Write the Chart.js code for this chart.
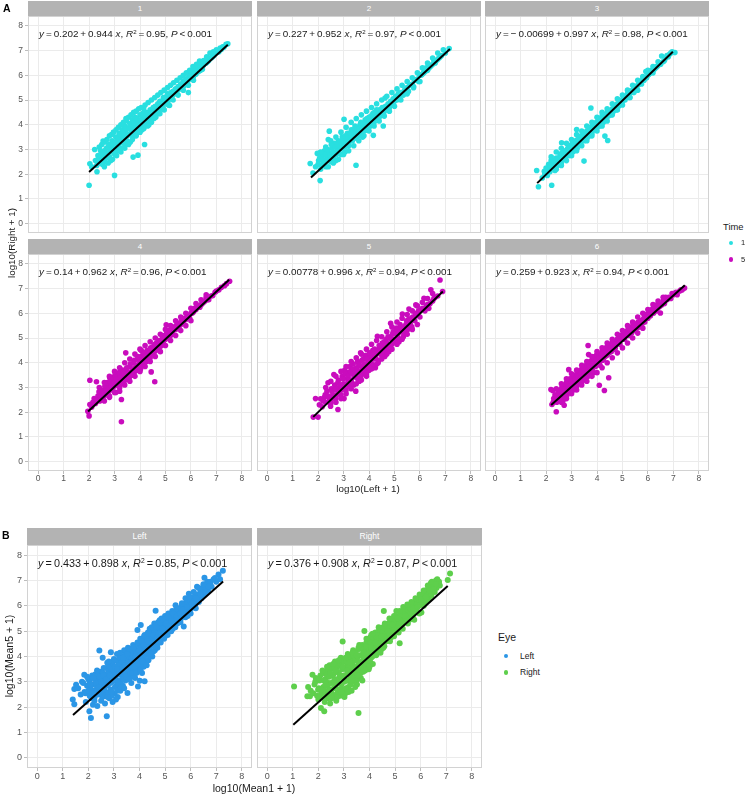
<!DOCTYPE html>
<html>
<head>
<meta charset="utf-8">
<title>log10 scatter panels</title>
<script src="https://cdn.jsdelivr.net/npm/chart.js@4.4.1/dist/chart.umd.min.js"></script>
<style>
    html, body { margin: 0; padding: 0; background: #fff; }
    #fig { position: relative; width: 749px; height: 796px; overflow: hidden; font-family: 'Liberation Sans', Arial, sans-serif; color: #1a1a1a; }
    #fig canvas { position: absolute; }
    .strip { position: absolute; background: #b3b3b3; color: #fff; text-align: center; }
    .eq { position: absolute; white-space: nowrap; transform: translateY(-50%); line-height: 1; }
    .eq sup { font-size: 0.62em; vertical-align: 0.55em; line-height: 0; }
    .txt { position: absolute; white-space: nowrap; line-height: 1; }
    .dot { position: absolute; border-radius: 50%; }
</style>
</head>
<body>
<div id="fig"></div>
<script>
(function() {
    'use strict';

    // ---- data ----
    const tickValues = [0, 1, 2, 3, 4, 5, 6, 7, 8];
    const panelNames = ['1', '2', '3', '4', '5', '6', 'Left', 'Right'];
    const timeLevels = ['1', '5'];
    const eyeLevels = ['Left', 'Right'];

    const fitIntercept = [0.202, 0.227, -0.00699, 0.14, 0.00778, 0.259, 0.433, 0.376];
    const fitSlope = [0.944, 0.952, 0.997, 0.962, 0.996, 0.923, 0.898, 0.908];
    const fitR2 = [0.95, 0.97, 0.98, 0.96, 0.94, 0.94, 0.85, 0.87];
    const fitXMin = [2.0, 1.72, 1.65, 1.96, 1.81, 2.2, 1.4, 1.02];
    const fitXMax = [7.45, 7.18, 6.98, 7.5, 6.9, 7.45, 7.27, 7.06];

    // x, y pairs (log10 values)
    const panel1Pts = [2.00,1.55, 2.03,2.42, 2.10,2.30, 2.22,3.00, 2.31,2.10, 2.25,2.55, 2.35,2.75, 2.40,2.45, 2.45,2.95, 2.50,2.60, 2.55,3.34, 2.58,2.80, 2.62,2.50, 2.68,3.05, 2.72,2.70, 2.78,3.20, 2.82,2.90, 2.85,2.55, 2.90,3.35, 2.95,3.05, 3.00,1.95, 3.02,2.80, 3.05,3.50, 3.10,3.20, 3.12,2.95, 3.18,3.65, 3.22,3.40, 3.25,3.05, 3.30,3.80, 3.32,3.55, 3.36,3.25, 3.40,3.95, 3.44,3.70, 3.46,4.15, 3.48,3.35, 3.52,3.85, 3.56,3.60, 3.60,4.05, 3.62,3.30, 3.66,3.80, 3.70,4.20, 3.73,2.69, 3.75,3.55, 3.78,3.95, 3.82,4.30, 3.86,3.75, 3.90,4.10, 3.92,2.77, 3.95,3.90, 4.00,4.40, 4.04,4.15, 4.08,3.80, 4.12,4.30, 4.14,4.66, 4.18,3.20, 4.20,4.05, 4.25,4.50, 4.30,4.25, 4.35,4.00, 4.40,4.60, 4.45,4.35, 4.50,4.55, 4.55,4.25, 4.60,4.75, 4.65,4.50, 4.70,4.85, 4.75,4.60, 4.80,4.80, 4.85,4.95, 4.90,4.70, 4.95,5.05, 5.00,4.85, 5.05,5.15, 5.10,4.95, 5.16,4.78, 5.20,5.20, 5.25,5.10, 5.30,5.35, 5.35,5.25, 5.40,5.45, 5.45,5.35, 5.50,5.55, 5.55,5.45, 5.60,5.65, 5.65,5.50, 5.70,5.75, 5.75,5.60, 5.80,5.85, 5.85,5.70, 5.90,5.30, 5.92,5.95, 6.00,5.85, 6.05,6.05, 6.10,5.95, 6.15,6.15, 6.20,6.05, 6.25,6.25, 6.30,6.15, 6.34,6.58, 6.40,6.35, 6.45,6.25, 6.50,6.45, 6.60,6.50, 6.70,6.60, 6.80,6.70, 6.90,6.80, 7.00,7.03, 7.10,6.95, 7.20,7.05, 7.30,7.15, 7.45,7.28,
        2.30,2.35, 2.38,2.60, 2.48,2.75, 2.52,2.40, 2.60,2.95, 2.66,2.65, 2.70,2.85, 2.75,3.10, 2.80,2.70, 2.88,3.00, 2.92,3.20, 2.98,2.85, 3.04,3.30, 3.08,3.05, 3.14,3.45, 3.16,3.10, 3.20,3.25, 3.24,3.60, 3.28,3.30, 3.34,3.70, 3.38,3.50, 3.42,3.20, 3.46,3.85, 3.50,3.55, 3.54,3.30, 3.58,3.90, 3.64,3.65, 3.68,4.00, 3.72,3.50, 3.76,4.10, 3.80,3.80, 3.84,3.60, 3.88,4.25, 3.94,4.00, 3.98,3.70, 4.02,4.20, 4.06,3.95, 4.10,4.45, 4.16,4.05, 4.22,4.30, 4.28,4.45, 4.32,4.10, 4.38,4.40, 4.42,4.20, 4.48,4.45, 4.52,4.70, 4.58,4.45, 4.62,4.60, 4.68,4.70, 4.72,4.45, 4.78,4.95, 4.82,4.65, 4.88,4.85, 4.92,5.10, 4.98,4.95, 5.02,5.05, 5.08,5.25, 5.14,5.05, 5.22,5.30, 5.28,5.20, 5.38,5.40, 5.48,5.45, 5.58,5.55, 5.68,5.65, 5.78,5.75, 5.88,5.80, 5.98,6.00, 6.08,6.15, 6.18,6.25, 6.28,6.35, 6.38,6.20, 6.48,6.40, 6.55,6.55, 6.65,6.55, 6.75,6.70, 6.85,6.75, 6.95,6.90, 7.05,6.95, 7.15,7.10, 7.25,7.15, 7.38,7.25];
    const panel1Edge = [2.40,3.10, 2.50,3.20, 2.62,3.30, 2.70,3.40, 2.80,3.55, 2.88,3.60, 2.96,3.70, 3.06,3.80, 3.15,3.90, 3.25,4.00, 3.35,4.10, 3.45,4.25, 3.55,4.30, 3.65,4.40, 3.75,4.50, 3.85,4.55, 3.95,4.65, 4.05,4.70, 4.20,4.80, 4.32,4.90, 4.45,5.00, 4.58,5.10, 4.70,5.20, 4.82,5.30, 4.95,5.40, 5.08,5.50, 5.20,5.60, 5.32,5.70, 5.45,5.80, 5.58,5.90, 5.70,6.00, 5.82,6.10, 5.95,6.20, 6.08,6.35, 6.22,6.45, 6.36,6.50, 6.50,6.60, 6.62,6.75, 6.75,6.90, 6.88,6.95,
        2.60,2.30, 2.75,2.45, 2.92,2.60, 3.08,2.75, 3.25,2.90, 3.40,3.05, 3.55,3.20, 3.70,3.40, 3.85,3.55, 4.00,3.70, 4.15,3.85, 4.30,3.95, 4.45,4.10, 4.62,4.30, 4.78,4.45, 4.95,4.60, 5.12,4.80, 5.30,5.00, 5.50,5.20, 5.70,5.40, 5.90,5.60, 6.10,5.80];
    const panel2Pts = [1.69,2.43, 1.80,2.05, 1.90,2.30, 1.97,2.84, 2.02,2.55, 2.08,1.74, 2.10,2.20, 2.15,2.75, 2.20,2.45, 2.25,2.95, 2.30,2.30, 2.35,2.65, 2.40,3.40, 2.44,3.74, 2.45,2.85, 2.50,2.50, 2.55,3.05, 2.60,2.75, 2.65,3.25, 2.70,2.55, 2.75,2.95, 2.80,3.35, 2.85,3.10, 2.90,2.80, 2.95,3.50, 3.00,3.20, 3.02,4.22, 3.05,2.90, 3.10,3.40, 3.15,3.65, 3.20,3.15, 3.25,3.50, 3.30,3.80, 3.35,3.35, 3.40,3.60, 3.45,3.95, 3.49,2.36, 3.50,3.45, 3.55,3.75, 3.60,3.55, 3.65,4.00, 3.70,3.70, 3.75,3.50, 3.80,3.90, 3.85,4.20, 3.90,3.80, 3.95,4.05, 4.00,4.30, 4.05,3.95, 4.10,4.20, 4.15,4.45, 4.17,3.57, 4.20,4.10, 4.25,4.35, 4.30,4.60, 4.35,4.25, 4.40,4.50, 4.45,4.35, 4.50,4.65, 4.56,3.95, 4.58,4.50, 4.63,5.08, 4.65,4.75, 4.70,4.60, 4.75,4.85, 4.80,4.70, 4.85,4.95, 4.90,4.80, 4.95,5.05, 5.00,4.95, 5.05,5.15, 5.10,5.00, 5.15,5.25, 5.20,5.10, 5.30,5.30, 5.35,5.20, 5.40,5.40, 5.50,5.50, 5.55,5.35, 5.60,5.60, 5.70,5.65, 5.75,5.55, 5.80,5.80, 5.90,5.85, 5.95,5.75, 6.00,6.00, 6.10,6.05, 6.20,6.15, 6.25,6.30, 6.30,6.20, 6.40,6.35, 6.50,6.45, 6.55,6.60, 6.60,6.50, 6.70,6.65, 6.80,6.75, 6.92,7.03, 7.00,6.90, 7.15,7.08,
        2.00,2.40, 2.06,2.65, 2.12,2.35, 2.18,2.60, 2.22,2.80, 2.28,2.50, 2.32,2.80, 2.38,3.00, 2.42,2.55, 2.48,2.75, 2.52,3.20, 2.58,2.90, 2.62,2.60, 2.68,3.10, 2.72,2.80, 2.78,3.20, 2.82,2.95, 2.88,3.30, 2.92,3.05, 2.98,3.40, 3.04,3.10, 3.08,3.55, 3.12,3.30, 3.18,3.50, 3.22,3.30, 3.28,3.65, 3.32,3.45, 3.38,3.80, 3.42,3.50, 3.48,3.70, 3.52,3.90, 3.58,3.65, 3.62,3.85, 3.68,4.10, 3.72,3.85, 3.78,4.05, 3.82,3.75, 3.88,4.00, 3.92,4.25, 3.98,4.15, 4.02,3.95, 4.08,4.35, 4.12,4.10, 4.18,4.30, 4.22,4.50, 4.28,4.25, 4.32,4.45, 4.38,4.35, 4.42,4.60, 4.48,4.45, 4.52,4.70, 4.60,4.60, 4.68,4.65, 4.78,4.80, 4.88,4.90, 4.98,5.00, 5.08,5.10, 5.18,5.20, 5.25,5.30, 5.45,5.45, 5.65,5.60, 5.85,5.80, 6.05,6.00, 6.15,6.10, 6.35,6.30, 6.45,6.40, 6.65,6.60, 6.75,6.70, 6.85,6.80];
    const panel2Edge = [2.10,2.90, 2.30,3.10, 2.50,3.35, 2.70,3.50, 2.90,3.70, 3.10,3.90, 3.30,4.10, 3.50,4.25, 3.70,4.40, 3.90,4.55, 4.10,4.70, 4.30,4.85, 4.50,5.00, 4.70,5.15, 4.90,5.30, 5.10,5.45, 5.30,5.60, 5.50,5.75, 5.70,5.90, 5.90,6.10, 6.10,6.30, 6.30,6.50, 6.50,6.70, 6.70,6.90,
        2.40,2.30, 2.60,2.45, 2.80,2.60, 3.00,2.80, 3.20,2.95, 3.40,3.15, 3.60,3.35, 3.80,3.55, 4.00,3.75, 4.20,3.95, 4.40,4.15, 4.60,4.35, 4.80,4.55, 5.00,4.75, 5.25,5.00, 5.50,5.25, 5.75,5.50, 6.00,5.75];
    const panel3Pts = [1.63,2.15, 1.70,1.49, 1.85,1.85, 1.93,2.12, 2.00,2.25, 2.05,1.95, 2.10,2.40, 2.15,2.10, 2.20,2.55, 2.22,1.55, 2.25,2.25, 2.30,2.45, 2.35,2.15, 2.40,2.65, 2.45,2.35, 2.50,2.55, 2.55,2.80, 2.60,2.45, 2.61,3.27, 2.65,2.70, 2.70,2.95, 2.75,2.60, 2.80,2.85, 2.85,3.05, 2.90,2.75, 2.95,3.00, 3.00,3.20, 3.05,2.90, 3.10,3.15, 3.15,3.35, 3.20,3.81, 3.22,3.05, 3.25,3.30, 3.30,3.50, 3.35,3.20, 3.40,3.45, 3.45,3.60, 3.49,2.53, 3.50,3.35, 3.55,3.55, 3.60,3.75, 3.65,3.50, 3.70,3.70, 3.75,3.90, 3.76,4.68, 3.80,3.65, 3.85,3.85, 3.90,4.05, 3.95,3.80, 4.00,4.00, 4.05,4.20, 4.10,3.95, 4.15,4.15, 4.20,4.35, 4.25,4.10, 4.31,3.54, 4.35,4.30, 4.40,4.50, 4.42,3.36, 4.45,4.35, 4.50,4.55, 4.55,4.40, 4.60,4.65, 4.65,4.55, 4.70,4.75, 4.75,4.60, 4.80,4.85, 4.85,4.75, 4.90,4.95, 5.00,4.95, 5.05,5.10, 5.10,5.00, 5.20,5.25, 5.25,5.10, 5.30,5.35, 5.40,5.40, 5.45,5.30, 5.50,5.55, 5.60,5.60, 5.70,5.70, 5.75,5.65, 5.80,5.85, 5.92,6.15, 5.95,5.90, 6.05,6.05, 6.15,6.20, 6.20,6.10, 6.30,6.30, 6.40,6.40, 6.50,6.45, 6.54,6.78, 6.65,6.60, 6.75,6.80, 6.85,6.85, 6.95,6.95, 7.06,6.92,
        1.95,2.00, 2.08,2.20, 2.12,2.25, 2.18,2.35, 2.28,2.30, 2.32,2.55, 2.38,2.40, 2.42,2.50, 2.48,2.65, 2.52,2.45, 2.58,2.65, 2.62,2.85, 2.68,2.60, 2.72,2.80, 2.78,2.75, 2.82,2.95, 2.88,2.90, 2.92,3.10, 2.98,2.90, 3.02,3.05, 3.08,3.25, 3.12,3.05, 3.18,3.20, 3.24,3.40, 3.28,3.25, 3.32,3.35, 3.38,3.55, 3.42,3.35, 3.48,3.50, 3.52,3.65, 3.58,3.45, 3.62,3.60, 3.68,3.80, 3.72,3.60, 3.78,3.75, 3.82,3.95, 3.88,3.80, 3.92,3.90, 3.98,4.10, 4.02,3.90, 4.08,4.05, 4.12,4.25, 4.18,4.10, 4.22,4.20, 4.28,4.40, 4.32,4.25, 4.38,4.35, 4.48,4.45, 4.58,4.55, 4.68,4.65, 4.78,4.75, 4.88,4.85, 4.95,5.00, 5.15,5.15, 5.35,5.30, 5.55,5.50, 5.65,5.65, 5.85,5.80, 6.00,6.00, 6.10,6.10, 6.25,6.25, 6.35,6.35, 6.45,6.50, 6.60,6.55, 6.70,6.70, 6.80,6.75, 6.90,6.90];
    const panel3Edge = [2.20,2.70, 2.40,2.90, 2.60,3.05, 2.80,3.25, 3.00,3.40, 3.20,3.60, 3.40,3.75, 3.60,3.95, 3.80,4.10, 4.00,4.30, 4.20,4.50, 4.40,4.65, 4.60,4.85, 4.80,5.05, 5.00,5.20, 5.20,5.40, 5.40,5.60, 5.60,5.80, 5.80,5.95, 6.00,6.20, 6.20,6.35, 6.40,6.55,
        2.40,2.20, 2.60,2.35, 2.80,2.55, 3.00,2.75, 3.20,2.95, 3.40,3.15, 3.60,3.35, 3.80,3.55, 4.00,3.75, 4.20,3.95, 4.40,4.15, 4.60,4.40, 4.80,4.60, 5.00,4.80, 5.30,5.10, 5.60,5.40];
    const panel4Pts = [1.95,2.04, 2.00,1.85, 2.03,3.29, 2.03,2.31, 2.10,2.20, 2.20,2.55, 2.25,2.35, 2.29,3.23, 2.35,2.65, 2.39,2.82, 2.42,2.45, 2.50,2.75, 2.55,2.55, 2.60,2.90, 2.65,2.70, 2.70,3.05, 2.75,2.80, 2.80,2.60, 2.81,3.40, 2.85,3.15, 2.90,2.90, 2.95,3.30, 3.00,3.05, 3.05,2.80, 3.10,3.20, 3.15,3.45, 3.20,3.00, 3.25,3.30, 3.27,1.61, 3.27,2.51, 3.30,3.55, 3.35,3.20, 3.40,3.45, 3.44,4.40, 3.45,3.70, 3.50,3.35, 3.55,3.60, 3.60,3.85, 3.65,3.50, 3.70,3.75, 3.75,4.00, 3.80,3.65, 3.85,3.90, 3.90,4.15, 3.95,3.80, 4.00,4.05, 4.05,4.50, 4.05,4.25, 4.10,3.90, 4.15,4.15, 4.20,4.40, 4.25,4.05, 4.30,4.30, 4.35,4.50, 4.40,4.20, 4.44,3.63, 4.45,4.45, 4.50,4.65, 4.55,4.40, 4.58,3.23, 4.60,4.60, 4.65,4.80, 4.70,4.55, 4.75,4.75, 4.80,4.90, 4.85,4.70, 4.90,4.95, 4.95,5.10, 5.00,4.95, 5.03,5.54, 5.10,5.15, 5.15,5.30, 5.20,5.10, 5.25,5.25, 5.30,5.40, 5.40,5.35, 5.45,5.55, 5.50,5.45, 5.60,5.55, 5.65,5.70, 5.70,5.60, 5.80,5.75, 5.90,5.90, 5.95,5.80, 6.00,6.00, 6.10,6.05, 6.20,6.15, 6.25,6.30, 6.35,6.25, 6.45,6.40, 6.55,6.50, 6.60,6.65, 6.70,6.55, 6.86,6.72, 6.95,6.85, 7.10,6.95, 7.32,7.12, 7.52,7.30,
        2.15,2.40, 2.32,2.50, 2.45,2.60, 2.48,2.90, 2.58,2.75, 2.62,3.05, 2.68,2.85, 2.72,3.20, 2.78,2.95, 2.82,3.25, 2.88,3.05, 2.92,3.40, 2.98,3.20, 3.02,3.50, 3.08,3.35, 3.12,3.10, 3.18,3.60, 3.22,3.40, 3.28,3.15, 3.32,3.70, 3.38,3.55, 3.42,3.30, 3.48,3.80, 3.52,3.55, 3.58,3.40, 3.62,3.95, 3.68,3.65, 3.72,3.50, 3.78,4.10, 3.82,3.80, 3.88,3.70, 3.92,4.25, 3.98,3.95, 4.02,3.75, 4.08,4.20, 4.12,4.40, 4.18,4.00, 4.22,4.25, 4.28,4.50, 4.32,4.20, 4.38,4.40, 4.42,4.60, 4.48,4.35, 4.52,4.55, 4.58,4.75, 4.62,4.50, 4.68,4.70, 4.72,4.90, 4.78,4.65, 4.82,4.85, 4.88,5.05, 4.92,4.85, 4.98,5.00, 5.05,5.20, 5.12,5.05, 5.18,5.25, 5.22,5.35, 5.28,5.20, 5.35,5.45, 5.42,5.40, 5.48,5.60, 5.55,5.50, 5.62,5.70, 5.75,5.80, 5.85,5.85, 6.05,6.00, 6.15,6.20, 6.30,6.25, 6.40,6.35, 6.50,6.45, 6.65,6.55, 6.80,6.70, 7.00,6.90, 7.20,7.05, 7.40,7.20];
    const panel4Edge = [2.40,3.00, 2.60,3.20, 2.80,3.45, 3.00,3.65, 3.20,3.80, 3.40,4.00, 3.60,4.15, 3.80,4.35, 4.00,4.55, 4.20,4.70, 4.40,4.85, 4.60,5.00, 4.80,5.15, 5.00,5.35, 5.20,5.50, 5.40,5.70, 5.60,5.85, 5.80,6.00, 6.00,6.20, 6.20,6.40, 6.40,6.55, 6.60,6.75,
        2.60,2.45, 2.80,2.65, 3.00,2.80, 3.20,2.85, 3.40,3.10, 3.60,3.25, 3.80,3.45, 4.00,3.65, 4.20,3.85, 4.40,4.05, 4.60,4.25, 4.80,4.45, 5.00,4.70, 5.20,4.90, 5.40,5.10, 5.60,5.30, 5.80,5.50, 6.00,5.70];
    const panel5Pts = [1.81,1.80, 2.00,1.80, 1.90,2.55, 2.10,2.54, 2.16,2.22, 2.25,2.60, 2.30,2.40, 2.35,2.85, 2.39,3.19, 2.45,2.55, 2.49,2.24, 2.52,2.95, 2.58,2.70, 2.62,3.52, 2.65,3.10, 2.70,2.55, 2.75,2.90, 2.78,2.11, 2.80,3.30, 2.85,3.05, 2.90,2.70, 2.95,3.45, 3.00,3.15, 3.02,2.55, 3.05,3.70, 3.10,2.90, 3.15,3.35, 3.20,3.60, 3.22,3.05, 3.25,3.85, 3.30,3.30, 3.35,3.55, 3.38,3.95, 3.40,3.10, 3.45,3.75, 3.48,2.85, 3.50,3.40, 3.55,4.05, 3.58,3.60, 3.62,3.25, 3.67,4.40, 3.70,3.85, 3.75,3.55, 3.78,4.15, 3.82,3.75, 3.88,4.30, 3.90,3.45, 3.95,4.00, 4.00,3.70, 4.05,4.25, 4.10,3.95, 4.15,4.50, 4.20,4.15, 4.25,3.80, 4.30,4.35, 4.33,5.07, 4.38,4.10, 4.42,4.60, 4.48,4.35, 4.52,4.80, 4.58,4.50, 4.62,4.25, 4.68,4.95, 4.72,4.65, 4.78,4.45, 4.85,5.60, 4.85,5.05, 4.90,4.75, 4.95,5.25, 5.02,4.95, 5.08,5.40, 5.12,5.10, 5.18,4.85, 5.22,5.55, 5.28,5.25, 5.31,5.97, 5.35,5.05, 5.40,5.45, 5.48,5.70, 5.52,5.35, 5.57,6.17, 5.60,5.60, 5.68,5.45, 5.72,5.85, 5.80,5.70, 5.84,6.34, 5.90,5.95, 6.00,5.85, 6.05,6.15, 6.16,6.61, 6.20,6.10, 6.30,6.35, 6.35,6.20, 6.43,6.95, 6.50,6.50, 6.60,6.65, 6.79,7.35, 6.89,6.88,
        2.05,2.30, 2.20,2.45, 2.28,2.70, 2.40,2.65, 2.48,2.45, 2.55,2.85, 2.60,2.55, 2.68,2.95, 2.72,2.70, 2.78,3.20, 2.82,2.85, 2.88,3.10, 2.92,2.90, 2.98,3.35, 3.02,3.00, 3.08,3.55, 3.12,3.15, 3.18,3.45, 3.22,3.30, 3.28,3.65, 3.32,3.20, 3.36,3.75, 3.42,3.45, 3.46,3.60, 3.52,3.80, 3.56,3.35, 3.60,3.95, 3.64,3.65, 3.68,3.45, 3.72,4.10, 3.76,3.75, 3.80,3.95, 3.84,4.20, 3.86,3.60, 3.92,4.15, 3.96,3.85, 4.02,4.40, 4.06,4.05, 4.12,4.30, 4.16,3.90, 4.22,4.55, 4.26,4.20, 4.32,4.45, 4.36,4.00, 4.40,4.70, 4.45,4.45, 4.50,4.30, 4.55,4.65, 4.60,4.85, 4.65,4.45, 4.70,4.80, 4.75,5.05, 4.80,4.70, 4.88,4.95, 4.92,5.15, 4.98,4.85, 5.05,5.20, 5.10,5.35, 5.15,5.00, 5.20,5.25, 5.25,5.45, 5.32,5.35, 5.38,5.20, 5.45,5.55, 5.50,5.45, 5.55,5.75, 5.62,5.55, 5.66,5.80, 5.75,5.75, 5.82,6.00, 5.95,6.10, 6.10,6.20, 6.25,6.30, 6.40,6.40, 6.55,6.60, 6.70,6.70];
    const panel5Edge = [2.30,3.00, 2.50,3.25, 2.70,3.45, 2.90,3.65, 3.10,3.85, 3.30,4.05, 3.50,4.20, 3.70,4.35, 3.90,4.55, 4.10,4.75, 4.30,4.90, 4.50,5.05, 4.70,5.25, 4.90,5.45, 5.10,5.65, 5.30,5.80, 5.50,5.95, 5.70,6.10, 5.90,6.30, 6.10,6.45, 6.30,6.60, 6.50,6.80,
        2.50,2.35, 2.70,2.40, 2.90,2.55, 3.10,2.75, 3.30,2.95, 3.50,3.15, 3.70,3.30, 3.90,3.55, 4.10,3.75, 4.30,3.95, 4.50,4.15, 4.70,4.35, 4.90,4.55, 5.10,4.75, 5.30,4.95, 5.50,5.15, 5.70,5.35, 5.90,5.55];
    const panel6Pts = [2.19,2.92, 2.26,2.88, 2.23,2.31, 2.30,2.55, 2.35,2.70, 2.40,2.02, 2.42,2.40, 2.48,2.85, 2.52,2.55, 2.58,2.70, 2.62,3.00, 2.66,2.45, 2.71,2.28, 2.72,2.85, 2.78,3.10, 2.82,2.70, 2.86,2.95, 2.89,3.72, 2.92,3.25, 2.96,2.80, 3.00,3.10, 3.05,3.40, 3.08,2.90, 3.12,3.20, 3.16,3.50, 3.20,3.05, 3.24,3.35, 3.28,3.60, 3.32,3.25, 3.36,3.50, 3.40,3.75, 3.44,3.35, 3.48,3.60, 3.52,3.85, 3.56,3.50, 3.60,3.75, 3.65,4.70, 3.67,4.33, 3.68,3.95, 3.72,3.65, 3.76,3.85, 3.80,4.10, 3.84,3.80, 3.88,4.00, 3.92,4.25, 3.96,3.90, 4.00,4.15, 4.05,4.35, 4.09,3.09, 4.10,4.05, 4.15,4.25, 4.20,4.45, 4.25,4.15, 4.29,2.88, 4.30,4.40, 4.35,4.60, 4.40,4.30, 4.46,3.39, 4.46,4.55, 4.52,4.75, 4.56,4.45, 4.62,4.65, 4.68,4.85, 4.72,4.60, 4.78,4.80, 4.84,5.00, 4.90,4.75, 4.96,4.95, 5.02,5.15, 5.08,4.95, 5.14,5.10, 5.20,5.30, 5.26,5.10, 5.32,5.25, 5.38,5.45, 5.45,5.30, 5.52,5.40, 5.58,5.60, 5.65,5.45, 5.72,5.55, 5.80,5.75, 5.88,5.65, 5.95,5.85, 6.02,6.00, 6.10,5.90, 6.18,6.05, 6.25,6.20, 6.35,6.10, 6.42,6.25, 6.49,6.01, 6.55,6.35, 6.65,6.40, 6.75,6.55, 6.90,6.60, 7.00,6.75, 7.15,6.75, 7.25,6.90, 7.35,6.95, 7.44,7.02,
        2.28,2.40, 2.38,2.50, 2.45,2.60, 2.50,2.75, 2.55,2.90, 2.60,2.55, 2.64,2.80, 2.68,3.05, 2.74,2.70, 2.76,2.95, 2.80,3.20, 2.84,2.85, 2.88,3.05, 2.94,3.35, 2.98,2.95, 3.02,3.25, 3.06,3.00, 3.10,3.45, 3.14,3.30, 3.18,3.10, 3.22,3.55, 3.26,3.45, 3.30,3.15, 3.34,3.65, 3.38,3.40, 3.42,3.25, 3.46,3.80, 3.50,3.50, 3.54,3.35, 3.58,3.90, 3.62,3.60, 3.66,3.45, 3.70,3.85, 3.74,4.05, 3.78,3.70, 3.82,3.95, 3.86,3.60, 3.90,4.15, 3.94,3.85, 3.98,4.30, 4.02,4.00, 4.07,4.20, 4.12,3.90, 4.17,4.35, 4.22,4.10, 4.27,4.55, 4.32,4.25, 4.37,4.45, 4.42,4.65, 4.48,4.40, 4.54,4.60, 4.60,4.80, 4.66,4.55, 4.72,4.75, 4.80,4.95, 4.86,4.80, 4.92,5.10, 4.98,5.05, 5.05,5.00, 5.12,5.20, 5.18,5.15, 5.24,5.40, 5.30,5.35, 5.36,5.20, 5.42,5.55, 5.50,5.50, 5.56,5.40, 5.62,5.65, 5.70,5.70, 5.78,5.60, 5.86,5.85, 5.92,5.95, 6.00,5.80, 6.08,6.05, 6.15,6.15, 6.22,6.00, 6.30,6.30, 6.40,6.40, 6.48,6.30, 6.60,6.50, 6.70,6.65, 6.82,6.65, 6.95,6.80, 7.10,6.85, 7.30,6.95];
    const panel6Edge = [2.40,2.95, 2.60,3.15, 2.80,3.35, 3.00,3.55, 3.20,3.70, 3.40,3.90, 3.60,4.05, 3.80,4.25, 4.00,4.45, 4.20,4.60, 4.40,4.80, 4.60,4.95, 4.80,5.15, 5.00,5.30, 5.20,5.50, 5.40,5.65, 5.60,5.85, 5.80,6.00, 6.00,6.15, 6.20,6.35, 6.40,6.50, 6.60,6.65,
        2.60,2.40, 2.80,2.55, 3.00,2.75, 3.20,2.90, 3.40,3.10, 3.60,3.25, 3.80,3.45, 4.00,3.60, 4.20,3.80, 4.40,4.00, 4.60,4.20, 4.80,4.40, 5.00,4.60, 5.20,4.80, 5.40,5.00, 5.60,5.20, 5.80,5.40];
    const eyeLeftPts = [1.39,2.30, 1.45,2.12, 1.45,2.72, 1.52,2.89, 1.60,2.75, 1.70,2.50, 1.75,3.00, 1.84,3.28, 1.85,2.60, 1.90,2.20, 1.95,2.85, 2.00,3.10, 2.04,1.84, 2.05,2.45, 2.10,1.57, 2.10,2.70, 2.15,3.25, 2.18,2.10, 2.20,2.90, 2.25,2.40, 2.28,3.30, 2.30,2.65, 2.35,2.05, 2.38,3.05, 2.40,2.50, 2.43,4.24, 2.45,2.85, 2.48,3.40, 2.50,2.25, 2.52,2.70, 2.55,3.15, 2.56,3.95, 2.58,2.45, 2.60,3.55, 2.62,2.95, 2.65,2.15, 2.68,3.30, 2.70,2.60, 2.72,1.64, 2.74,3.75, 2.76,2.85, 2.80,3.45, 2.82,2.35, 2.85,3.10, 2.88,4.17, 2.88,2.70, 2.90,3.65, 2.93,3.00, 2.95,2.20, 2.97,3.35, 3.00,3.90, 3.02,2.55, 3.05,3.15, 3.08,3.60, 3.10,2.85, 3.12,4.10, 3.15,2.40, 3.18,3.40, 3.20,3.80, 3.22,3.05, 3.25,2.65, 3.28,3.60, 3.30,4.00, 3.32,3.25, 3.35,2.85, 3.38,3.75, 3.40,4.25, 3.42,3.45, 3.45,3.05, 3.48,3.90, 3.50,3.60, 3.53,2.56, 3.55,4.35, 3.57,3.30, 3.60,3.80, 3.62,4.05, 3.65,3.50, 3.68,2.95, 3.70,4.20, 3.72,3.70, 3.75,4.45, 3.78,3.40, 3.80,3.95, 3.83,3.15, 3.85,4.25, 3.88,3.65, 3.92,5.05, 3.92,4.05, 3.94,2.82, 3.95,3.45, 3.98,4.45, 4.00,3.85, 4.01,3.04, 4.03,4.70, 4.05,3.60, 4.05,5.24, 4.08,4.20, 4.10,3.35, 4.12,4.55, 4.15,3.95, 4.18,4.80, 4.20,3.02, 4.20,4.30, 4.23,3.70, 4.26,4.60, 4.30,4.10, 4.33,4.95, 4.35,3.85, 4.38,4.45, 4.40,5.10, 4.43,4.20, 4.46,4.70, 4.50,4.00, 4.52,5.00, 4.55,4.45, 4.58,5.30, 4.60,4.25, 4.63,5.81, 4.64,4.75, 4.68,5.05, 4.70,4.50, 4.73,5.35, 4.76,4.80, 4.79,5.43, 4.80,5.10, 4.83,4.55, 4.86,5.50, 4.90,4.90, 4.93,5.25, 4.96,4.70, 5.00,5.60, 5.03,5.05, 5.06,5.35, 5.10,4.85, 5.13,5.70, 5.16,5.20, 5.20,5.45, 5.24,5.00, 5.28,5.80, 5.32,5.35, 5.36,5.60, 5.40,5.15, 5.41,6.02, 5.45,5.90, 5.50,5.50, 5.55,5.75, 5.60,5.35, 5.65,6.00, 5.70,5.65, 5.73,5.18, 5.75,5.90, 5.80,5.55, 5.85,6.15, 5.90,5.80, 5.93,6.48, 5.95,6.05, 6.00,5.70, 6.05,6.30, 6.10,5.95, 6.15,6.20, 6.20,5.90, 6.25,6.75, 6.28,6.40, 6.32,6.15, 6.38,6.55, 6.42,6.30, 6.48,6.70, 6.54,7.11, 6.55,6.45, 6.62,6.85, 6.68,6.60, 6.75,6.90, 6.82,6.75, 6.90,7.05, 7.00,6.95, 7.09,7.24, 7.15,7.05, 7.26,7.38,
        2.05,3.00, 2.12,2.35, 2.22,2.65, 2.26,3.10, 2.32,2.85, 2.36,3.25, 2.42,2.70, 2.46,3.10, 2.50,2.55, 2.54,2.95, 2.57,3.35, 2.61,2.75, 2.64,3.15, 2.67,2.45, 2.70,3.55, 2.73,2.95, 2.77,3.30, 2.80,2.55, 2.83,3.60, 2.86,2.95, 2.89,3.25, 2.92,2.45, 2.95,3.75, 2.98,3.10, 3.01,3.45, 3.04,2.80, 3.07,3.85, 3.10,3.30, 3.13,2.65, 3.16,3.65, 3.19,3.05, 3.22,3.95, 3.25,3.45, 3.28,2.90, 3.31,3.80, 3.34,3.35, 3.37,3.10, 3.40,3.60, 3.43,4.05, 3.46,3.30, 3.49,3.75, 3.52,3.15, 3.55,3.95, 3.58,3.50, 3.61,4.20, 3.64,3.30, 3.67,3.90, 3.70,3.55, 3.73,4.05, 3.76,3.20, 3.79,3.80, 3.82,4.35, 3.86,3.50, 3.89,4.15, 3.93,3.75, 3.96,4.25, 3.99,3.60, 4.02,4.05, 4.06,4.40, 4.09,3.75, 4.13,4.30, 4.16,3.60, 4.19,4.60, 4.22,4.05, 4.25,4.40, 4.28,3.85, 4.31,4.75, 4.34,4.25, 4.37,4.60, 4.41,4.00, 4.44,4.85, 4.47,4.45, 4.51,4.75, 4.54,4.20, 4.57,5.05, 4.61,4.60, 4.66,4.90, 4.70,4.35, 4.75,5.15, 4.80,4.70, 4.85,5.00, 4.90,5.30, 4.95,4.95, 5.00,5.20, 5.05,5.50, 5.10,5.10, 5.15,5.40, 5.22,5.25, 5.26,5.60, 5.30,5.10, 5.38,5.45, 5.42,5.75, 5.48,5.30, 5.52,5.65, 5.58,5.90, 5.62,5.50, 5.68,5.80, 5.78,5.75, 5.82,6.05, 5.88,5.60, 5.98,6.20, 6.02,5.90, 6.12,6.35, 6.18,6.05, 6.22,6.45, 6.35,6.35, 6.45,6.55, 6.58,6.65, 6.65,6.95, 6.78,6.95, 6.95,7.10];
    const eyeLeftFill = [1.80,2.95, 1.88,2.55, 1.95,3.20, 2.00,2.65, 2.08,2.90, 2.14,2.55, 2.20,3.15, 2.24,2.25, 2.30,2.95, 2.34,3.45, 2.40,2.80, 2.44,3.20, 2.50,3.00, 2.55,2.40, 2.60,3.25, 2.66,2.85, 2.70,3.10, 2.75,2.40, 2.80,3.80, 2.84,3.25, 2.90,2.60, 2.94,3.50, 3.00,3.05, 3.04,3.60, 3.08,2.30, 3.12,3.50, 3.16,2.95, 3.20,3.30, 3.24,4.15, 3.28,2.80, 3.32,3.55, 3.36,3.95, 3.40,2.75, 3.44,3.65, 3.48,3.20, 3.52,4.10, 3.56,3.75, 3.60,3.10, 3.64,4.30, 3.68,3.65, 3.72,3.35, 3.76,4.35, 3.80,3.60, 3.84,4.00, 3.88,3.35, 3.92,4.55, 3.96,3.70, 4.00,4.25, 4.04,3.45, 4.08,4.60, 4.12,3.80, 4.16,4.45, 4.20,4.85, 4.24,4.15, 4.28,3.65, 4.32,4.60, 4.36,4.90, 4.40,4.35, 4.44,4.10, 4.48,5.15, 4.52,4.60, 4.56,4.85, 4.60,4.40, 4.65,5.20, 4.70,4.75, 4.75,4.55, 4.80,5.35, 4.85,4.80, 4.90,5.10, 4.95,5.45, 5.00,4.80, 5.05,5.30, 5.12,5.55, 5.18,5.05, 5.25,5.40, 5.32,5.70, 5.38,5.25, 5.45,5.60, 5.52,5.85, 5.60,5.70, 5.66,6.10, 5.72,5.85, 5.80,6.30, 5.86,5.95, 5.95,6.35, 6.05,6.10, 6.12,6.55, 6.22,6.30, 6.32,6.70, 6.40,6.45, 6.50,6.85, 6.60,6.55, 6.70,6.75];
    const eyeRightPts = [1.05,2.82, 1.57,2.43, 1.67,2.43, 1.77,3.28, 1.85,2.90, 1.90,3.15, 1.99,2.69, 2.00,2.30, 2.05,3.05, 2.10,1.97, 2.12,2.55, 2.18,3.35, 2.20,2.80, 2.23,1.84, 2.25,2.20, 2.28,3.10, 2.32,2.60, 2.35,3.45, 2.38,2.35, 2.40,2.95, 2.44,3.65, 2.46,2.15, 2.50,3.25, 2.53,2.70, 2.56,3.55, 2.58,2.40, 2.62,3.05, 2.65,3.80, 2.68,2.85, 2.70,2.25, 2.73,3.40, 2.76,2.60, 2.79,3.70, 2.82,3.15, 2.85,2.45, 2.88,3.95, 2.90,2.90, 2.93,3.50, 2.95,4.59, 2.96,2.70, 3.00,3.25, 3.03,3.85, 3.06,2.55, 3.09,3.60, 3.12,3.05, 3.15,4.10, 3.18,2.80, 3.21,3.45, 3.24,3.90, 3.27,3.20, 3.30,2.65, 3.33,3.70, 3.36,4.25, 3.39,3.00, 3.42,3.50, 3.45,4.00, 3.48,3.30, 3.51,2.90, 3.54,3.80, 3.57,1.77, 3.57,4.35, 3.60,3.45, 3.63,4.05, 3.66,3.15, 3.69,3.70, 3.72,4.45, 3.75,3.40, 3.78,3.95, 3.80,5.01, 3.82,4.25, 3.85,3.60, 3.88,4.55, 3.91,3.80, 3.94,4.15, 3.97,3.50, 4.00,4.40, 4.03,4.75, 4.07,4.85, 4.06,3.95, 4.10,4.20, 4.13,3.70, 4.16,4.60, 4.20,4.35, 4.23,4.95, 4.26,4.05, 4.30,4.65, 4.33,4.30, 4.36,5.00, 4.40,4.50, 4.43,4.15, 4.46,4.85, 4.50,4.55, 4.53,5.15, 4.56,5.80, 4.58,4.40, 4.62,4.90, 4.65,4.65, 4.68,5.25, 4.72,4.80, 4.76,5.05, 4.80,4.60, 4.84,5.35, 4.88,4.95, 4.92,5.20, 4.96,4.80, 5.00,5.45, 5.05,5.80, 5.05,5.10, 5.10,5.35, 5.14,4.95, 5.18,4.52, 5.18,5.55, 5.22,5.20, 5.26,5.45, 5.30,5.10, 5.34,5.65, 5.38,5.84, 5.40,5.35, 5.45,5.55, 5.50,5.30, 5.55,5.75, 5.60,5.50, 5.65,5.90, 5.70,5.65, 5.75,5.45, 5.80,6.00, 5.85,5.80, 5.90,6.15, 5.95,5.70, 6.00,6.05, 6.03,5.74, 6.08,6.30, 6.12,6.00, 6.18,6.40, 6.22,6.15, 6.28,6.55, 6.32,6.25, 6.38,6.70, 6.42,6.40, 6.48,6.85, 6.55,6.55, 6.60,7.00, 6.62,6.70, 6.69,6.92, 6.75,6.80, 7.06,7.02, 7.15,7.28,
        2.02,2.75, 2.08,3.25, 2.15,2.40, 2.22,3.05, 2.26,2.65, 2.30,3.30, 2.34,2.45, 2.37,2.85, 2.42,3.20, 2.45,2.60, 2.48,3.50, 2.51,2.95, 2.55,2.50, 2.59,3.30, 2.61,2.75, 2.64,3.55, 2.67,3.10, 2.71,2.50, 2.74,3.60, 2.77,2.95, 2.80,3.35, 2.84,2.70, 2.87,3.70, 2.91,3.20, 2.94,2.55, 2.97,3.80, 3.01,3.00, 3.04,3.55, 3.08,2.75, 3.11,3.80, 3.14,3.35, 3.17,3.05, 3.20,4.00, 3.23,3.60, 3.26,2.90, 3.29,3.80, 3.32,3.35, 3.35,4.05, 3.38,3.55, 3.41,3.15, 3.44,3.85, 3.47,4.20, 3.50,3.60, 3.53,3.10, 3.56,4.00, 3.59,3.70, 3.62,4.30, 3.65,3.35, 3.68,4.05, 3.71,3.80, 3.74,3.60, 3.77,4.30, 3.81,4.00, 3.84,3.75, 3.87,4.40, 3.90,4.10, 3.93,3.85, 3.96,4.60, 3.99,4.25, 4.02,3.80, 4.05,4.55, 4.08,4.30, 4.11,4.00, 4.15,4.75, 4.18,4.45, 4.22,4.20, 4.25,4.80, 4.28,4.50, 4.32,4.85, 4.35,4.40, 4.38,4.70, 4.42,5.05, 4.45,4.60, 4.48,4.30, 4.52,4.95, 4.55,4.70, 4.60,5.10, 4.64,4.80, 4.70,5.05, 4.74,5.30, 4.78,4.90, 4.82,5.15, 4.86,5.45, 4.90,5.05, 4.94,5.35, 4.98,5.10, 5.02,5.60, 5.08,5.25, 5.12,5.55, 5.16,5.30, 5.20,5.70, 5.24,5.40, 5.28,5.65, 5.32,5.35, 5.36,5.75, 5.42,5.50, 5.48,5.85, 5.52,5.60, 5.58,5.90, 5.62,5.70, 5.68,6.05, 5.72,5.80, 5.78,6.15, 5.82,5.90, 5.88,6.25, 5.92,6.00, 5.98,6.35, 6.05,6.15, 6.10,6.45, 6.15,6.25, 6.20,6.60, 6.25,6.35, 6.30,6.75, 6.35,6.50, 6.40,6.90, 6.45,6.60, 6.52,6.75, 6.58,6.85, 6.65,7.05, 6.72,6.95];
    const eyeRightFill = [1.60,2.80, 1.70,2.65, 1.80,2.55, 1.88,3.00, 1.95,2.45, 2.02,3.10, 2.10,2.70, 2.16,3.45, 2.22,2.45, 2.28,2.90, 2.34,3.60, 2.40,2.65, 2.46,3.35, 2.52,2.35, 2.58,3.70, 2.63,2.95, 2.68,3.45, 2.74,2.40, 2.80,3.85, 2.85,3.25, 2.90,2.60, 2.96,3.60, 3.02,2.40, 3.07,3.95, 3.12,3.45, 3.18,2.60, 3.23,3.75, 3.28,3.05, 3.34,4.15, 3.39,3.40, 3.44,2.80, 3.50,4.05, 3.55,3.25, 3.60,4.45, 3.66,3.60, 3.72,3.05, 3.77,4.15, 3.83,3.45, 3.88,4.70, 3.94,3.95, 4.00,3.60, 4.06,4.35, 4.12,4.90, 4.18,4.05, 4.24,4.55, 4.30,4.20, 4.36,5.15, 4.42,4.40, 4.48,4.80, 4.54,4.35, 4.60,5.30, 4.66,4.60, 4.72,5.00, 4.78,5.50, 4.84,4.75, 4.90,5.25, 4.96,5.60, 5.02,5.00, 5.10,5.50, 5.18,5.80, 5.25,5.30, 5.32,5.95, 5.40,5.60, 5.48,6.05, 5.56,5.45, 5.64,6.15, 5.72,5.90, 5.80,6.30, 5.88,5.95, 5.96,6.45, 6.04,6.25, 6.12,6.60, 6.20,6.35, 6.28,6.80, 6.36,6.60, 6.44,6.95, 6.52,6.65, 6.60,6.85];

    const panelPoints = [
        panel1Pts.concat(panel1Edge), panel2Pts.concat(panel2Edge), panel3Pts.concat(panel3Edge),
        panel4Pts.concat(panel4Edge), panel5Pts.concat(panel5Edge), panel6Pts.concat(panel6Edge),
        eyeLeftPts.concat(eyeLeftFill), eyeRightPts.concat(eyeRightFill),
    ];

    // ---- layout & style ----
    const COLORS = { t1: '#29dfe0', t5: '#c90cbd', left: '#2b96e6', right: '#5ecf4c' };
    const panelColor = [COLORS.t1, COLORS.t1, COLORS.t1, COLORS.t5, COLORS.t5, COLORS.t5, COLORS.left, COLORS.right];

    // panel boxes: plotting area only (strip sits just above)
    const PANELS = [
        { left: 28,  top: 16,  w: 224, h: 217, showX: false, showY: true,  fig: 'A' },
        { left: 257, top: 16,  w: 224, h: 217, showX: false, showY: false, fig: 'A' },
        { left: 485, top: 16,  w: 224, h: 217, showX: false, showY: false, fig: 'A' },
        { left: 28,  top: 254, w: 224, h: 217, showX: true,  showY: true,  fig: 'A' },
        { left: 257, top: 254, w: 224, h: 217, showX: true,  showY: false, fig: 'A' },
        { left: 485, top: 254, w: 224, h: 217, showX: true,  showY: false, fig: 'A' },
        { left: 27,  top: 545, w: 225, h: 223, showX: true,  showY: true,  fig: 'B' },
        { left: 257, top: 545, w: 225, h: 223, showX: true,  showY: false, fig: 'B' },
    ];
    const FIG_STYLE = {
        A: { stripH: 15, stripFont: 8, tickFont: 8.5, eqFont: 9.9, yMin: -0.38, yMax: 8.4, radius: 2.8, xPad: 0 },
        B: { stripH: 17, stripFont: 8.5, tickFont: 9, eqFont: 10.8, yMin: -0.4, yMax: 8.4, radius: 3.0, xPad: 0.6 },
    };
    const Y_AXIS_W = 24;
    const X_AXIS_H = 16;
    const FONT = "'Liberation Sans', Arial, sans-serif";

    const fig = document.getElementById('fig');

    function toXY(flat) {
        const out = [];
        for (let i = 0; i < flat.length; i += 2) out.push({ x: flat[i], y: flat[i + 1] });
        return out;
    }

    function addText(text, left, top, size, extra) {
        const el = document.createElement('div');
        el.className = 'txt';
        el.style.left = left + 'px';
        el.style.top = top + 'px';
        el.style.fontSize = size + 'px';
        if (extra) Object.assign(el.style, extra);
        el.innerHTML = text;
        fig.appendChild(el);
        return el;
    }

    function addDot(cx, cy, r, color) {
        const d = document.createElement('div');
        d.className = 'dot';
        d.style.left = (cx - r) + 'px';
        d.style.top = (cy - r) + 'px';
        d.style.width = d.style.height = (2 * r) + 'px';
        d.style.background = color;
        fig.appendChild(d);
    }

    function equationHtml(i) {
        const a = fitIntercept[i];
        const aTxt = a < 0 ? '\u2212\u2009' + Math.abs(a) : String(a);
        return '<i>y</i>\u2009=\u2009' + aTxt + '\u2009+\u2009' + fitSlope[i] + ' <i>x</i>, ' +
            '<i>R</i><sup>2</sup>\u2009=\u2009' + fitR2[i] + ', <i>P</i>\u2009&lt;\u20090.001';
    }

    const panelFrame = {
        id: 'panelFrame',
        afterDraw(chart) {
            const { ctx, chartArea: a } = chart;
            ctx.save();
            ctx.strokeStyle = '#d2d2d2';
            ctx.lineWidth = 1;
            ctx.strokeRect(a.left + 0.5, a.top + 0.5, a.right - a.left - 1, a.bottom - a.top - 1);
            ctx.restore();
        }
    };

    function buildPanel(i) {
        const box = PANELS[i];
        const st = FIG_STYLE[box.fig];
        const yW = box.showY ? Y_AXIS_W : 0;
        const xH = box.showX ? X_AXIS_H : 0;

        // strip
        const strip = document.createElement('div');
        strip.className = 'strip';
        strip.style.left = box.left + 'px';
        strip.style.top = (box.top - st.stripH) + 'px';
        strip.style.width = box.w + 'px';
        strip.style.height = st.stripH + 'px';
        strip.style.lineHeight = st.stripH + 'px';
        strip.style.fontSize = st.stripFont + 'px';
        strip.textContent = panelNames[i];
        fig.appendChild(strip);

        const canvas = document.createElement('canvas');
        canvas.width = box.w + yW;
        canvas.height = box.h + xH;
        canvas.style.left = (box.left - yW) + 'px';
        canvas.style.top = box.top + 'px';
        canvas.style.width = canvas.width + 'px';
        canvas.style.height = canvas.height + 'px';
        fig.appendChild(canvas);

        const x0 = fitXMin[i], x1 = fitXMax[i];
        const fitLine = [
            { x: x0, y: fitIntercept[i] + fitSlope[i] * x0 },
            { x: x1, y: fitIntercept[i] + fitSlope[i] * x1 },
        ];

        const axis = (show, min, max, pad) => ({
            type: 'linear',
            min, max,
            afterBuildTicks: s => { s.ticks = tickValues.map(v => ({ value: v })); },
            afterFit: s => {
                if (s.isHorizontal()) s.height = show ? X_AXIS_H : 0;
                else s.width = show ? Y_AXIS_W : 0;
                s.paddingTop = s.paddingBottom = s.paddingLeft = s.paddingRight = 0;
            },
            border: { display: false },
            grid: {
                color: '#ebebeb',
                lineWidth: 1,
                drawTicks: show,
                tickLength: 3,
                tickColor: '#bdbdbd',
            },
            ticks: {
                display: show,
                color: '#555555',
                padding: pad,
                font: { family: FONT, size: st.tickFont },
            },
        });

        new Chart(canvas, {
            type: 'scatter',
            data: {
                datasets: [
                    {
                        data: fitLine,
                        showLine: true,
                        borderColor: '#000000',
                        borderWidth: 2,
                        pointRadius: 0,
                    },
                    {
                        data: toXY(panelPoints[i]),
                        backgroundColor: panelColor[i],
                        borderWidth: 0,
                        pointRadius: st.radius,
                    },
                ],
            },
            options: {
                responsive: false,
                animation: false,
                devicePixelRatio: 1,
                layout: { padding: 0, autoPadding: false },
                plugins: { legend: { display: false }, tooltip: { enabled: false } },
                scales: {
                    x: axis(box.showX, -0.4, 8.4, st.xPad),
                    y: axis(box.showY, st.yMin, st.yMax, 2),
                },
            },
            plugins: [panelFrame],
        });

        // regression label
        const eq = document.createElement('div');
        eq.className = 'eq';
        eq.style.left = (box.left + 11) + 'px';
        eq.style.top = (box.top + 17.5) + 'px';
        eq.style.fontSize = st.eqFont + 'px';
        eq.innerHTML = equationHtml(i);
        fig.appendChild(eq);
    }

    function buildDecor() {
        // figure letters
        addText('A', 3, 3, 10.5, { fontWeight: 'bold', color: '#000' });
        addText('B', 2, 530, 10.5, { fontWeight: 'bold', color: '#000' });

        // axis titles
        addText('log10(Left + 1)', 368, 489, 9.8, { transform: 'translate(-50%, -50%)' });
        addText('log10(Right + 1)', 12, 243, 9.8, { transform: 'translate(-50%, -50%) rotate(-90deg)' });
        addText('log10(Mean1 + 1)', 254, 788, 10.5, { transform: 'translate(-50%, -50%)' });
        addText('log10(Mean5 + 1)', 9, 656, 10.5, { transform: 'translate(-50%, -50%) rotate(-90deg)' });

        // legend: Time
        addText('Time', 723, 222, 9.4);
        const timeColors = [COLORS.t1, COLORS.t5];
        timeLevels.forEach((lv, k) => {
            const cy = 243 + k * 16.5;
            addDot(731, cy, 2.3, timeColors[k]);
            addText(lv, 741, cy - 4, 7.5);
        });

        // legend: Eye
        addText('Eye', 498, 631.5, 10.5);
        const eyeColors = [COLORS.left, COLORS.right];
        eyeLevels.forEach((lv, k) => {
            const cy = 656 + k * 16.5;
            addDot(506, cy, 2.4, eyeColors[k]);
            addText(lv, 520, cy - 4.5, 8.5);
        });
    }

    function init() {
        PANELS.forEach((_, i) => buildPanel(i));
        buildDecor();
    }

    if (document.readyState === 'loading') {
        document.addEventListener('DOMContentLoaded', init);
    } else {
        init();
    }
})();
</script>
</body>
</html>
